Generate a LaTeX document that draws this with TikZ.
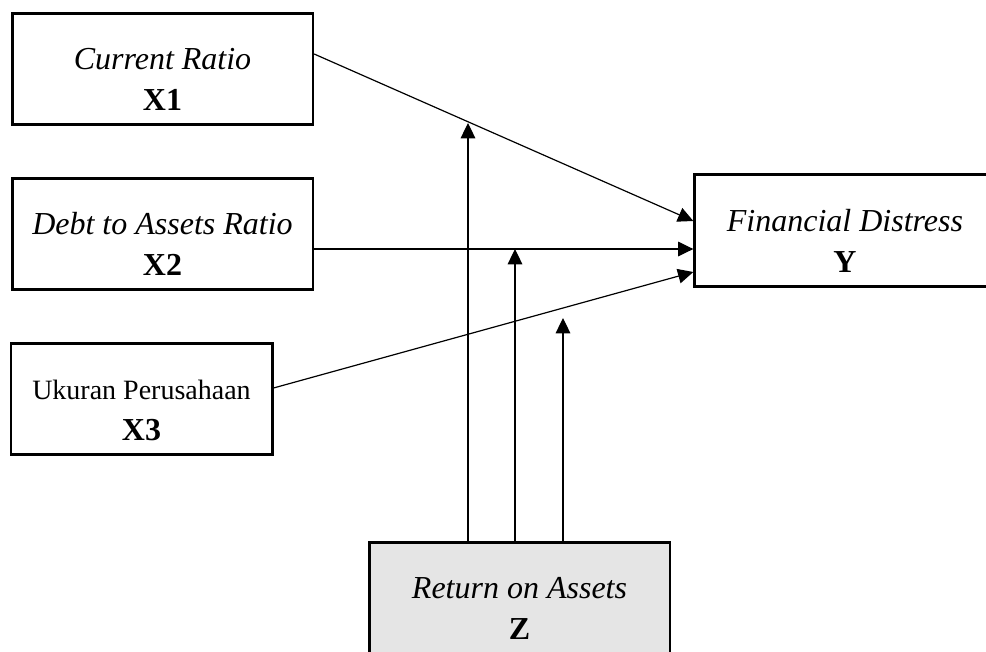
\documentclass[tikz,border=0pt]{standalone}
\usepackage{fontspec}
\setmainfont{Liberation Serif}
\usetikzlibrary{arrows.meta, calc}
\definecolor{roagray}{HTML}{E5E5E5}
\newcommand{\boxtext}[2]{\rule{0pt}{32pt}#1\\\textbf{#2}}

\begin{document}
\begin{tikzpicture}[x = .75pt, y = -.75pt,
    var/.style = {draw, line width = 2pt, minimum width = 225.5pt,
      minimum height = 83.7pt, inner sep = 0pt, align = center,
      font = \fontsize{24}{30.75}\selectfont},
    link/.style = {line width = .9pt, -{Triangle[length = 11.5pt, width = 11pt]}}]
  \useasboundingbox (0,0) rectangle (986,651);
  \clip (0,0) rectangle (986,651);
  % variables
  \node[var] (x1) at (162.5,69) {\boxtext{\textit{Current Ratio}}{X1}};
  \node[var] (x2) at (162.5,234) {\boxtext{\textit{Debt to Assets Ratio}}{X2}};
  \node[var, minimum width = 196pt] (x3) at (141.5,399)
    {\boxtext{\fontsize{21}{30}\selectfont Ukuran Perusahaan}{X3}};
  \node[var] (y) at (845,230.5) {\boxtext{\textit{Financial Distress}}{Y}};
  \node[var, fill = roagray] (z) at (519.5,598) {\boxtext{\textit{Return on Assets}}{Z}};
  % direct effects
  \draw[link] ($(x1.east)+(0,-15)$) -- ($(y.west)+(0,-9.5)$);
  \draw[link] ($(x2.east)+(0,15)$) -- ($(y.west)+(0,18.5)$);
  \draw[link] ($(x3.east)+(0,-11)$) -- ($(y.west)+(0,41.5)$);
  % moderation
  \coordinate (m1) at (468,123);
  \coordinate (m2) at (515,249);
  \coordinate (m3) at (563,318);
  \draw[link] (z.north -| m1) -- (m1);
  \draw[link] (z.north -| m2) -- (m2);
  \draw[link] (z.north -| m3) -- (m3);
\end{tikzpicture}
\end{document}
